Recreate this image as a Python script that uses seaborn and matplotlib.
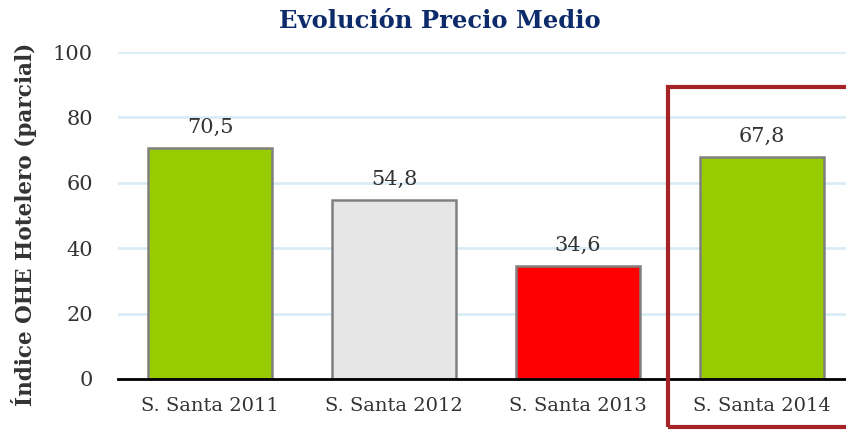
import matplotlib
matplotlib.use("Agg")
import matplotlib.pyplot as plt
import seaborn as sns
import pandas as pd
from matplotlib.patches import Rectangle

categories = ["S. Santa 2011", "S. Santa 2012", "S. Santa 2013", "S. Santa 2014"]
values = [70.5, 54.8, 34.6, 67.8]
labels = ["70,5", "54,8", "34,6", "67,8"]
colors = ["#99CC00", "#E6E6E6", "#FF0000", "#99CC00"]
yticks = [0, 20, 40, 60, 80, 100]

sns.set_theme(style="white")
plt.rcParams["font.family"] = ["DejaVu Serif"]

df = pd.DataFrame({"cat": categories, "val": values})

fig = plt.figure(figsize=(8.46, 4.30), dpi=100)
W, H = 846, 430
ax = fig.add_axes([118 / W, 1 - 379 / H, (854 - 118) / W, (379 - 52) / H])

sns.barplot(data=df, x="cat", y="val", hue="cat", palette=colors, legend=False,
            width=0.67, edgecolor="#808080", linewidth=1.8, ax=ax, saturation=1)

ax.set_xlim(-0.5, 3.5)
ax.set_ylim(0, 100)
ax.set_yticks(yticks)
ax.set_yticklabels([str(t) for t in yticks], fontsize=15, color="#333333")
ax.tick_params(axis="y", length=0, pad=18)
ax.yaxis.grid(True, color="#D9ECF7", linewidth=2)
ax.set_axisbelow(True)

ax.set_xticks(range(len(categories)))
ax.set_xticklabels(categories, fontsize=14, color="#333333")
ax.tick_params(axis="x", which="major", length=0, pad=13)
ax.set_xticks([-0.5, 0.5, 1.5, 2.5], minor=True)
ax.tick_params(axis="x", which="minor", length=7, width=1.8, color="black", direction="out")

for s in ["left", "right", "top"]:
    ax.spines[s].set_visible(False)
ax.spines["bottom"].set_color("black")
ax.spines["bottom"].set_linewidth(2)

ax.set_xlabel("")
ax.set_ylabel("Índice OHE Hotelero (parcial)", fontsize=15.5, fontweight="bold",
              color="#333333")
ax.yaxis.set_label_coords(-0.110, 0.474)

for i, (v, lab) in enumerate(zip(values, labels)):
    ax.annotate(lab, (i, v), xytext=(0, 8), textcoords="offset points",
                ha="center", va="bottom", fontsize=15, color="#333333")

fig.text(440 / W, 1 - 21 / H, "Evolución Precio Medio", ha="center", va="center",
         fontsize=17.5, fontweight="bold", color="#0D2B6B")

rect = Rectangle((668 / W, 1 - 427 / H), (900 - 668) / W, (427 - 87) / H,
                 transform=fig.transFigure, fill=False, edgecolor="#A52226",
                 linewidth=3.0, clip_on=False)
fig.patches.append(rect)

fig.savefig("out.png", dpi=100)
